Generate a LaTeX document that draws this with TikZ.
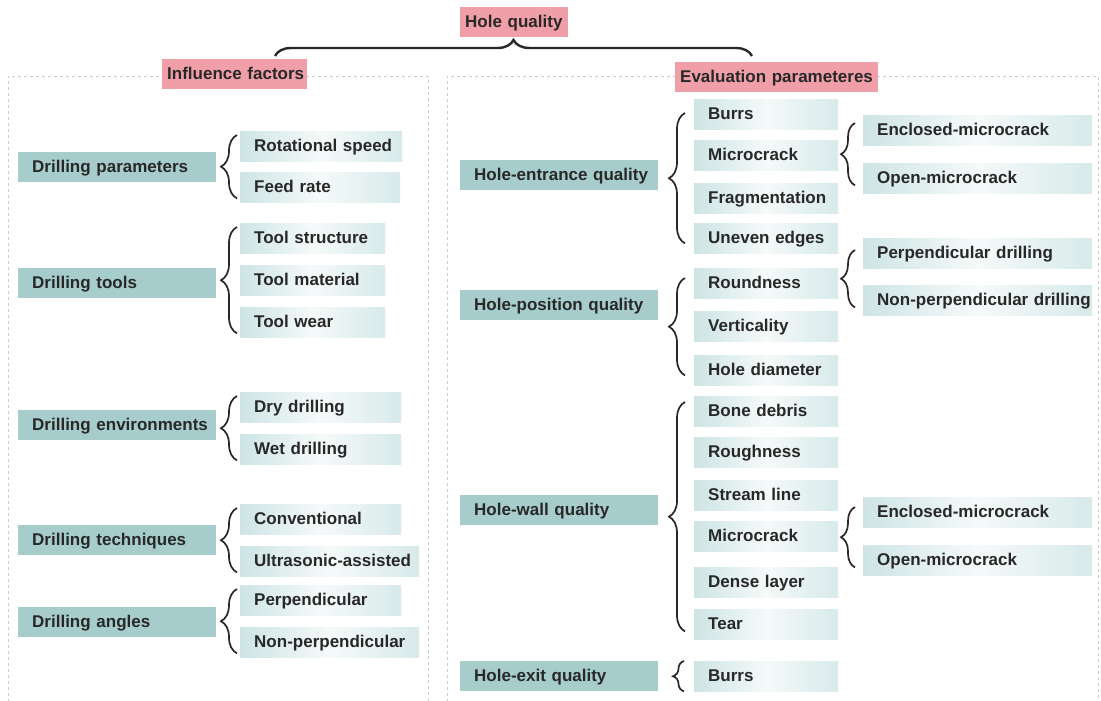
\documentclass[tikz,border=0pt]{standalone}
\usepackage{fontspec}
\setmainfont{Liberation Sans}
\usepackage{xcolor}
\usetikzlibrary{decorations.pathreplacing, positioning, calc}

\definecolor{mainteal}{RGB}{166,205,203}
\definecolor{subteal}{RGB}{206,228,228}
\definecolor{titlepink}{RGB}{240,158,168}
\definecolor{txtgray}{RGB}{40,40,40}

\tikzset{
  box/.style={anchor=north west, inner xsep=14pt, inner ysep=0pt, minimum height=30pt,
    text height=14pt, text depth=3pt, align=left, text=txtgray,
    font=\fontsize{17}{19}\selectfont\bfseries,
    execute at begin node=\hbox\bgroup, execute at end node=\egroup},
  main/.style={box, fill=mainteal, text width=#1},
  sub/.style={box, left color=subteal, right color=subteal!80, middle color=subteal!20, text width=#1},
  title/.style={box, inner xsep=5pt, fill=titlepink, text width=#1},
  curly/.style={decorate, decoration={brace, amplitude=#1}, line width=1.7pt, txtgray},
  frame/.style={gray!40, line width=0.8pt, dash pattern=on 3pt off 3pt}
}

\begin{document}
\begin{tikzpicture}[x=1pt, y=-1pt]
    \useasboundingbox[fill=white] (0,0) rectangle (1101,701);

    % dashed frames
    \draw[frame] (8,702) -- (8,76) -- (428,76) -- (428,702);
    \draw[frame] (447,702) -- (447,76) -- (1098,76) -- (1098,702);

    % titles
    \node[title=98] (hq) at (460,7) {Hole quality};
    \node[title=135] (inf) at (162,59) {Influence factors};
    \node[title=193] (eval) at (675,62) {Evaluation parameteres};

    \coordinate (bl) at (275,56);
    \coordinate (br) at (752,56);
    \draw[curly=16, line width=2.4pt] (bl) -- (br);

    % influence factors
    \node[main=170] (dp) at (18,152) {Drilling parameters};
    \node[main=170] (dt) at (18,268) {Drilling tools};
    \node[main=170] (de) at (18,410) {Drilling environments};
    \node[main=170] (dtech) at (18,525) {Drilling techniques};
    \node[main=170] (da) at (18,607) {Drilling angles};

    \node[sub=134] (rs) at (240,131) {Rotational speed};
    \node[sub=132] (fr) at (240,172) {Feed rate};
    \node[sub=117] (ts) at (240,223) {Tool structure};
    \node[sub=117] (tm) at (240,265) {Tool material};
    \node[sub=117] (tw) at (240,307) {Tool wear};
    \node[sub=133] (dry) at (240,392) {Dry drilling};
    \node[sub=133] (wet) at (240,434) {Wet drilling};
    \node[sub=133] (conv) at (240,504) {Conventional};
    \node[sub=151] (ua) at (240,546) {Ultrasonic-assisted};
    \node[sub=133] (perp) at (240,585) {Perpendicular};
    \node[sub=151] (nperp) at (240,627) {Non-perpendicular};

    \draw[curly=16] ([shift={(-3,-4)}]fr.south west) -- ([shift={(-3,4)}]rs.north west);
    \draw[curly=16] ([shift={(-3,-4)}]tw.south west) -- ([shift={(-3,4)}]ts.north west);
    \draw[curly=16] ([shift={(-3,-4)}]wet.south west) -- ([shift={(-3,4)}]dry.north west);
    \draw[curly=16] ([shift={(-3,-4)}]ua.south west) -- ([shift={(-3,4)}]conv.north west);
    \draw[curly=16] ([shift={(-3,-4)}]nperp.south west) -- ([shift={(-3,4)}]perp.north west);

    % evaluation parameters
    \node[main=170] (he) at (460,160) {Hole-entrance quality};
    \node[main=170] (hp) at (460,290) {Hole-position quality};
    \node[main=170] (hw) at (460,495) {Hole-wall quality};
    \node[main=170] (hx) at (460,661) {Hole-exit quality};

    \node[sub=116] (burrsa) at (694,99) {Burrs};
    \node[sub=116] (mca) at (694,140) {Microcrack};
    \node[sub=116] (frag) at (694,183) {Fragmentation};
    \node[sub=116] (ue) at (694,223) {Uneven edges};
    \node[sub=116] (round) at (694,268) {Roundness};
    \node[sub=116] (vert) at (694,311) {Verticality};
    \node[sub=116] (hd) at (694,355) {Hole diameter};
    \node[sub=116] (bone) at (694,396) {Bone debris};
    \node[sub=116] (rough) at (694,437) {Roughness};
    \node[sub=116] (stream) at (694,480) {Stream line};
    \node[sub=116] (mcb) at (694,521) {Microcrack};
    \node[sub=116] (dense) at (694,567) {Dense layer};
    \node[sub=116] (tear) at (694,609) {Tear};
    \node[sub=116] (burrsb) at (694,661) {Burrs};

    \node[sub=201] (enca) at (863,115) {Enclosed-microcrack};
    \node[sub=201] (opena) at (863,163) {Open-microcrack};
    \node[sub=201] (pd) at (863,238) {Perpendicular drilling};
    \node[sub=201] (npd) at (863,285) {Non-perpendicular drilling};
    \node[sub=201] (encb) at (863,497) {Enclosed-microcrack};
    \node[sub=201] (openb) at (863,545) {Open-microcrack};

    \draw[curly=16] ([shift={(-9,-10)}]ue.south west) -- ([shift={(-9,14)}]burrsa.north west);
    \draw[curly=16] ([shift={(-9,-10)}]hd.south west) -- ([shift={(-9,10)}]round.north west);
    \draw[curly=16] ([shift={(-9,-8)}]tear.south west) -- ([shift={(-9,6)}]bone.north west);
    \draw[curly=11] ([shift={(-10,0)}]burrsb.south west) -- ([shift={(-10,0)}]burrsb.north west);

    \draw[curly=14] ([shift={(-8,-8)}]opena.south west) -- ([shift={(-8,8)}]enca.north west);
    \draw[curly=14] ([shift={(-8,-8)}]npd.south west) -- ([shift={(-8,12)}]pd.north west);
    \draw[curly=14] ([shift={(-8,-8)}]openb.south west) -- ([shift={(-8,10)}]encb.north west);

  \end{tikzpicture}
\end{document}
